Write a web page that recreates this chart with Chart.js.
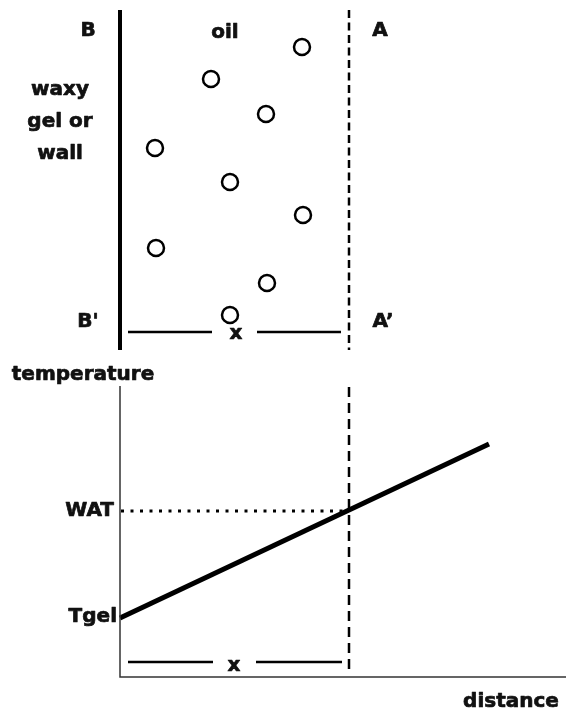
<!DOCTYPE html>
<html>
<head>
<meta charset="utf-8">
<script src="https://cdn.jsdelivr.net/npm/chart.js@4/dist/chart.umd.min.js"></script>
<style>
  html, body { margin: 0; padding: 0; background: #fff; }
  canvas { display: block; }
</style>
</head>
<body>
<canvas id="c" width="566" height="712"></canvas>
<script>
// oil particles (drawing units, y grows downwards)
const particleX = [302, 211, 266, 155, 230, 303, 156, 267, 230];
const particleY = [47, 79, 114, 148, 182, 215, 248, 283, 315];

// wall and A-A' boundary
const wallX = [120, 120];
const wallY = [10, 350];
const boundaryTopX = [349, 349];
const boundaryTopY = [10, 350];
const boundaryBottomX = [349, 349];
const boundaryBottomY = [387, 674];

// "x" brackets
const bracketTopLeftX = [128, 212];
const bracketTopRightX = [257, 341];
const bracketTopY = 332;
const bracketBottomLeftX = [128, 213];
const bracketBottomRightX = [256, 342];
const bracketBottomY = 662;

// temperature profile
const axisX = [120, 120, 566];
const axisY = [386, 677, 677];
const profileX = [120, 489];
const profileY = [618, 444];
const watX = [121, 349];
const watY = [511, 511];

const labels = [
  { t: 'B', x: 88, y: 31, a: 'center' },
  { t: 'oil', x: 225, y: 33, a: 'center' },
  { t: 'A', x: 380, y: 31, a: 'center' },
  { t: 'waxy', x: 60, y: 90, a: 'center' },
  { t: 'gel or', x: 60, y: 122, a: 'center' },
  { t: 'wall', x: 60, y: 154, a: 'center' },
  { t: "B'", x: 88, y: 322, a: 'center' },
  { t: 'A\u2019', x: 383, y: 322, a: 'center' },
  { t: 'x', x: 236, y: 334, a: 'center' },
  { t: 'temperature', x: 83, y: 375, a: 'center' },
  { t: 'WAT', x: 114, y: 511, a: 'right' },
  { t: 'Tgel', x: 117, y: 617, a: 'right' },
  { t: 'x', x: 234, y: 666, a: 'center' },
  { t: 'distance', x: 511, y: 702, a: 'center' }
];

const pts = (xs, ys) => xs.map((x, i) => ({ x, y: Array.isArray(ys) ? ys[i] : ys }));

const line = (data, width, dash, color) => ({
  data,
  showLine: true,
  borderColor: color || '#000',
  borderWidth: width,
  borderDash: dash || [],
  pointRadius: 0,
  fill: false,
  clip: false,
  borderCapStyle: 'butt'
});

// labels are drawn straight on the canvas, a thin stroke makes them as heavy as the original
const textPlugin = {
  id: 'texts',
  afterDatasetsDraw(chart) {
    const { ctx, scales } = chart;
    ctx.save();
    ctx.fillStyle = '#111';
    ctx.strokeStyle = '#111';
    ctx.lineWidth = 0.7;
    ctx.lineJoin = 'round';
    ctx.font = 'bold 20px "DejaVu Sans"';
    ctx.textBaseline = 'middle';
    labels.forEach(l => {
      const px = scales.x.getPixelForValue(l.x);
      const py = scales.y.getPixelForValue(l.y);
      ctx.textAlign = l.a;
      ctx.fillText(l.t, px, py);
      ctx.strokeText(l.t, px, py);
    });
    ctx.restore();
  }
};

new Chart(document.getElementById('c'), {
  type: 'scatter',
  data: {
    datasets: [
      line(pts(wallX, wallY), 4),
      line(pts(boundaryTopX, boundaryTopY), 2.5, [8, 4.5]),
      line(pts(boundaryBottomX, boundaryBottomY), 2.5, [10, 6]),
      line(pts(bracketTopLeftX, bracketTopY), 2.5),
      line(pts(bracketTopRightX, bracketTopY), 2.5),
      line(pts(bracketBottomLeftX, bracketBottomY), 2.5),
      line(pts(bracketBottomRightX, bracketBottomY), 2.5),
      line(pts(axisX, axisY), 1.5, [], '#333'),
      line(pts(watX, watY), 3, [3, 6.5]),
      line(pts(profileX, profileY), 5),
      {
        data: pts(particleX, particleY),
        pointRadius: 8,
        pointBorderWidth: 2.5,
        pointBackgroundColor: '#fff',
        pointBorderColor: '#000',
        showLine: false,
        clip: false
      }
    ]
  },
  options: {
    responsive: false,
    animation: false,
    layout: { padding: 0, autoPadding: false },
    plugins: { legend: { display: false }, tooltip: { enabled: false } },
    scales: {
      x: { type: 'linear', min: 0, max: 566, display: false },
      y: { type: 'linear', min: 0, max: 712, reverse: true, display: false }
    }
  },
  plugins: [textPlugin]
});
</script>
</body>
</html>
